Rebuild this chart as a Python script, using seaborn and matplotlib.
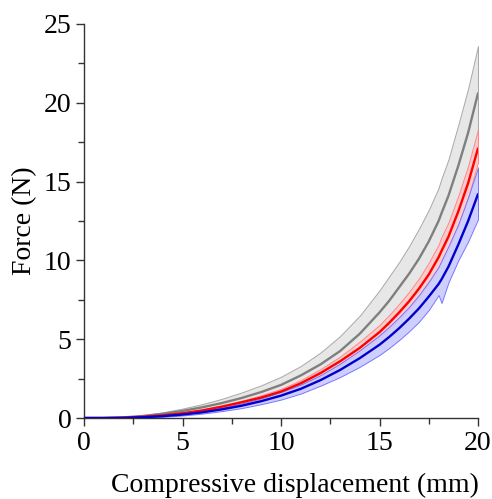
import numpy as np
import pandas as pd
import matplotlib
matplotlib.use("Agg")
import matplotlib.pyplot as plt
from matplotlib.ticker import MultipleLocator
import seaborn as sns

# displacement (mm)
disp = [0, 1, 2, 3, 4, 5, 6, 7, 8, 9, 10, 11, 12, 13, 14, 15, 15.5, 16, 16.5, 17, 17.5,
        18, 18.15, 18.5, 19, 19.5, 20]

# gray group
gray_mean = [0, 0, 0.04, 0.13, 0.27, 0.45, 0.68, 0.95, 1.27, 1.65, 2.10, 2.70, 3.40, 4.25, 5.35,
             6.70, 7.45, 8.30, 9.15, 10.10, 11.2, 12.50, 13.0, 14.1, 16.0, 18.1, 20.6]
gray_upper = [0, 0, 0.06, 0.18, 0.36, 0.60, 0.88, 1.22, 1.62, 2.08, 2.62, 3.30, 4.15, 5.20, 6.50,
              8.10, 9.0, 9.90, 10.9, 12.00, 13.2, 14.60, 15.2, 16.4, 18.6, 20.9, 23.6]
gray_lower = [0, 0, 0.02, 0.08, 0.18, 0.30, 0.48, 0.68, 0.92, 1.22, 1.58, 2.10, 2.65, 3.30, 4.20,
              5.30, 5.95, 6.70, 7.4, 8.20, 9.2, 10.40, 10.8, 11.8, 13.4, 15.3, 17.6]

# red group
red_mean = [0, 0, 0.02, 0.08, 0.17, 0.30, 0.48, 0.72, 1.00, 1.30, 1.68, 2.20, 2.85, 3.60, 4.45,
            5.45, 6.05, 6.70, 7.4, 8.20, 9.1, 10.20, 10.6, 11.5, 13.1, 14.9, 17.1]
red_upper = [0, 0, 0.03, 0.10, 0.20, 0.35, 0.55, 0.80, 1.10, 1.45, 1.85, 2.40, 3.10, 3.90, 4.85,
             5.90, 6.55, 7.25, 8.0, 8.85, 9.85, 11.00, 11.5, 12.4, 14.1, 16.0, 18.3]
red_lower = [0, 0, 0.01, 0.06, 0.14, 0.26, 0.42, 0.64, 0.90, 1.18, 1.52, 2.02, 2.62, 3.32, 4.10,
             5.05, 5.6, 6.20, 6.85, 7.60, 8.5, 9.50, 9.9, 10.7, 12.2, 14.0, 16.2]

# blue group
blue_mean = [0, 0, 0.01, 0.05, 0.12, 0.22, 0.36, 0.55, 0.78, 1.07, 1.42, 1.85, 2.40, 3.05, 3.80,
             4.65, 5.15, 5.70, 6.3, 6.95, 7.7, 8.50, 8.8, 9.6, 11.0, 12.5, 14.2]
blue_upper = [0, 0, 0.02, 0.07, 0.15, 0.27, 0.43, 0.65, 0.92, 1.25, 1.65, 2.12, 2.72, 3.45, 4.30,
              5.25, 5.8, 6.40, 7.05, 7.80, 8.65, 9.60, 10.0, 10.9, 12.3, 14.0, 15.9]
blue_lower = [0, 0, 0.0, 0.03, 0.08, 0.16, 0.28, 0.44, 0.63, 0.88, 1.17, 1.55, 2.05, 2.60, 3.25,
              4.00, 4.45, 4.95, 5.5, 6.10, 6.85, 7.80, 7.3, 8.6, 10.0, 11.2, 12.6]

x_ticks = [0, 5, 10, 15, 20]
y_ticks = [0, 5, 10, 15, 20, 25]

sns.set_theme(style="ticks")
plt.rcParams['font.family'] = ['Liberation Serif', 'DejaVu Serif']
plt.rcParams['text.color'] = 'black'
plt.rcParams['axes.labelcolor'] = 'black'
plt.rcParams['xtick.color'] = 'black'
plt.rcParams['ytick.color'] = 'black'

groups = [
    ("gray", gray_mean, gray_upper, gray_lower, "#7f7f7f", "#e5e5e5", "#a0a0a0"),
    ("red", red_mean, red_upper, red_lower, "#ff0000", "#ffc8c8", "#ff8080"),
    ("blue", blue_mean, blue_upper, blue_lower, "#0000cc", "#cacaff", "#6a6aff"),
]

df = pd.concat([
    pd.DataFrame({"disp": disp, "force": m, "group": g}) for g, m, *_ in groups
], ignore_index=True)

fig = plt.figure(figsize=(4.92, 4.99), dpi=100)
ax = fig.add_axes([0.171, 0.1623, 0.8005, 0.7897])

for g, m, up, lo, lc, fc, ec in groups:
    ax.fill_between(disp, lo, up, facecolor=fc, edgecolor=ec, linewidth=0.7, alpha=0.9, zorder=1)

palette = {g: lc for g, m, up, lo, lc, fc, ec in groups}
sns.lineplot(data=df, x="disp", y="force", hue="group", palette=palette,
             linewidth=1.7, legend=False, ax=ax, zorder=3)

ax.set_xlim(0, 20)
ax.set_ylim(0, 25)
ax.set_xticks(x_ticks)
ax.set_yticks(y_ticks)
ax.xaxis.set_minor_locator(MultipleLocator(2.5))
ax.yaxis.set_minor_locator(MultipleLocator(2.5))
ax.set_xlabel("Compressive displacement (mm)", fontsize=20, color="black")
ax.xaxis.set_label_coords(0.534, -0.14)
ax.set_ylabel("Force (N)", fontsize=20, labelpad=5, color="black")
ax.tick_params(axis="both", which="major", direction="out", length=6, width=1.0,
               labelsize=20, color="#333333", labelcolor="black", pad=3)
ax.tick_params(axis="both", which="minor", direction="out", length=4, width=1.0, color="#333333")
for s in ["top", "right"]:
    ax.spines[s].set_visible(False)
for s in ["left", "bottom"]:
    ax.spines[s].set_color("#333333")
    ax.spines[s].set_linewidth(1.0)
ax.set_facecolor("white")
fig.patch.set_facecolor("white")

fig.savefig("out.png", dpi=100, facecolor="white")
